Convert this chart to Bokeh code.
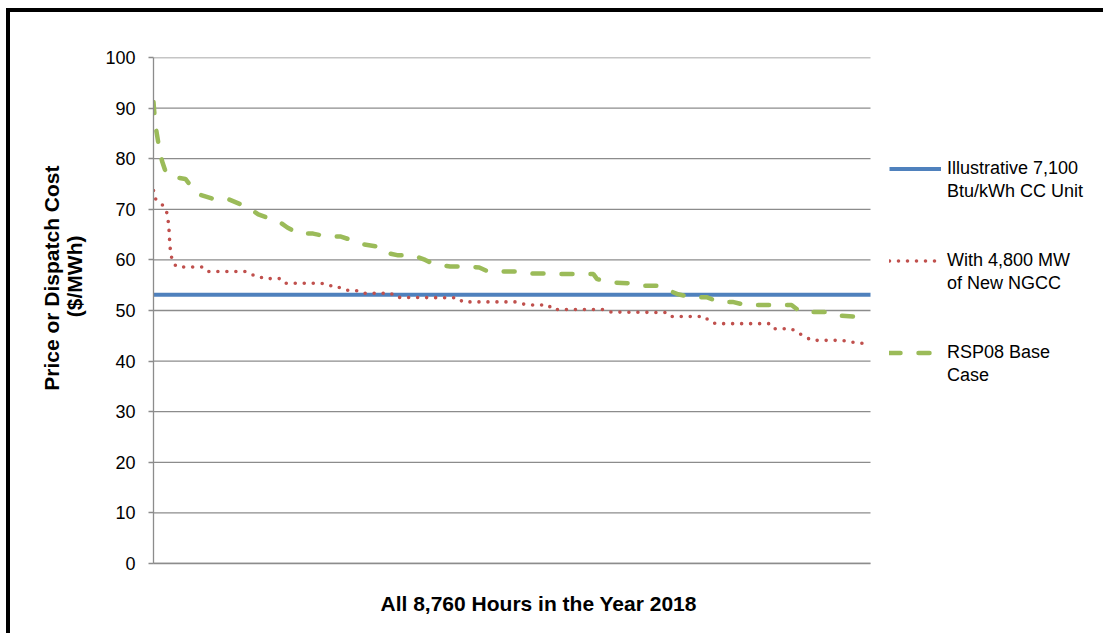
from bokeh.plotting import figure
from bokeh.models import FixedTicker, Legend, LegendItem, Title, Range1d
from bokeh.embed import file_html
from bokeh.resources import INLINE

# Hourly price-duration curves, hours sorted from highest to lowest price
HOURS = 8760

hours_cc = [0, 8760]
price_cc = [53.1, 53.1]

hours_ngcc = [0, 15, 70, 140, 165, 180, 188, 195, 200, 210, 225, 250, 290, 610, 670,
              1120, 1182, 1276, 1345, 1565, 1618, 2050, 2132, 2233, 2303, 2396, 2506,
              2579, 2902, 2958, 3725, 3775, 4420, 4505, 4605, 4825, 4870, 5520, 5590,
              6250, 6300, 6740, 6785, 6870, 7520, 7570, 7790, 7860, 7935, 8045, 8410,
              8495, 8580, 8700]
price_ngcc = [73.7, 72.2, 71.4, 70.4, 69.2, 67.6, 66.4, 64.4, 62.9, 61.4, 60.2, 59.2, 58.6,
              58.6, 57.7, 57.7, 57.1, 56.9, 56.3, 56.3, 55.4, 55.4, 54.9, 54.9, 54.2, 53.95,
              53.9, 53.4, 53.4, 52.6, 52.5, 51.7, 51.7, 51.3, 51.1, 51.1, 50.2, 50.2, 49.7,
              49.6, 48.8, 48.8, 47.9, 47.4, 47.4, 46.4, 46.4, 45.8, 45.0, 44.1, 44.1, 43.9,
              43.6, 43.5]

hours_base = [0, 8, 25, 45, 75, 105, 140, 190, 270, 390, 485, 545, 720, 900, 1060, 1155,
              1280, 1380, 1550, 1635, 1770, 1950, 2120, 2290, 2440, 2550, 2755, 2820,
              2990, 3175, 3320, 3420, 3625, 3785, 3980, 4090, 4455, 4640, 4810, 4980,
              5375, 5420, 5640, 5800, 5970, 6155, 6290, 6410, 6585, 6765, 6900, 7075,
              7230, 7795, 7905, 8260, 8370, 8560, 8680]
price_base = [91.2, 89.5, 86.5, 84.5, 81.5, 79.5, 77.8, 76.6, 76.3, 76.0, 74.0, 73.0, 72.1,
              72.1, 71.0, 70.4, 69.0, 68.4, 67.4, 66.4, 65.2, 65.2, 64.6, 64.6, 63.8, 63.1,
              62.6, 61.5, 60.9, 60.9, 60.0, 59.2, 58.7, 58.7, 58.5, 57.7, 57.7, 57.3, 57.3,
              57.2, 57.2, 56.2, 55.5, 55.4, 54.9, 54.9, 54.0, 53.2, 52.6, 52.6, 51.7, 51.7,
              51.1, 51.1, 49.7, 49.7, 49.0, 48.8, 47.4]

y_ticks = list(range(0, 101, 10))

label_cc = ["Illustrative 7,100", "Btu/kWh CC Unit"]
label_ngcc = ["With 4,800 MW", "of New NGCC"]
label_base = ["RSP08 Base", "Case"]

y_title = ["Price or Dispatch Cost", "($/MWh)"]
x_title = "All 8,760 Hours in the Year 2018"

FONT = "Liberation Sans"
GRID = "#8C8C8C"

# the plotting frame also holds the legend column on its right; the chart itself
# occupies the first 717 px (0..8760 h) of the 954 px wide frame
W, H = 1097, 625
LEFT = 143
CHART_W = 717
x_end = HOURS * (W - LEFT) / CHART_W

p = figure(width=W, height=H, output_backend="svg", toolbar_location=None,
           x_range=Range1d(0, x_end), y_range=Range1d(0, 100),
           min_border_left=LEFT, min_border_right=0, min_border_top=45,
           min_border_bottom=74)
p.styles = {"margin-left": "6px", "margin-top": "8px",
            "border-left": "4px solid #000000", "border-top": "4px solid #000000"}
p.outline_line_color = None
p.background_fill_color = "white"
p.border_fill_color = "white"

# axes
p.yaxis.ticker = FixedTicker(ticks=y_ticks)
p.yaxis.axis_line_color = GRID
p.yaxis.axis_line_width = 1.3
p.yaxis.major_tick_line_color = GRID
p.yaxis.major_tick_line_width = 1.3
p.yaxis.major_tick_out = 5
p.yaxis.major_tick_in = 0
p.yaxis.minor_tick_line_color = None
p.yaxis.major_label_standoff = 13
p.yaxis.major_label_text_font = FONT
p.yaxis.major_label_text_font_size = "18px"
p.yaxis.major_label_text_color = "#000000"

p.xaxis.ticker = FixedTicker(ticks=[])
p.xaxis.bounds = (0, HOURS)
p.xaxis.axis_line_color = GRID
p.xaxis.axis_line_width = 1.3
p.xaxis.major_tick_line_color = None
p.xaxis.minor_tick_line_color = None
p.xaxis.major_label_text_font_size = "0px"
# blank axis label keeps some room between the axis and the title below it
p.xaxis.axis_label = " "
p.xaxis.axis_label_text_font_size = "1px"
p.xaxis.axis_label_standoff = 14

# horizontal gridlines across the 8,760 hours only
p.xgrid.grid_line_color = None
p.ygrid.grid_line_color = None
p.segment(x0=[0] * len(y_ticks), y0=y_ticks, x1=[HOURS] * len(y_ticks), y1=y_ticks,
          line_color=GRID, line_width=1.3)

# series
r_cc = p.line(hours_cc, price_cc, line_color="#4F81BD", line_width=4)
r_ngcc = p.line(hours_ngcc, price_ngcc, line_color="#C0504D", line_width=3.6,
                line_dash="0 9", line_cap="round")
r_base = p.line(hours_base, price_base, line_color="#9BBB59", line_width=4.5,
                line_dash="11 18", line_cap="round")

# invisible glyph for second lines of the legend labels
r_blank = p.line(x=[], y=[], line_alpha=0)

items = [
    LegendItem(label=label_cc[0], renderers=[r_cc]),
    LegendItem(label=label_cc[1], renderers=[r_blank]),
    LegendItem(label=" ", renderers=[r_blank]),
    LegendItem(label=" ", renderers=[r_blank]),
    LegendItem(label=label_ngcc[0], renderers=[r_ngcc]),
    LegendItem(label=label_ngcc[1], renderers=[r_blank]),
    LegendItem(label=" ", renderers=[r_blank]),
    LegendItem(label=" ", renderers=[r_blank]),
    LegendItem(label=label_base[0], renderers=[r_base]),
    LegendItem(label=label_base[1], renderers=[r_blank]),
]
legend = Legend(items=items, location=(CHART_W + 19, 176), margin=0, padding=0,
                spacing=0, label_height=23, glyph_height=23, glyph_width=52,
                label_standoff=6, border_line_color=None, background_fill_alpha=0,
                label_text_font=FONT, label_text_font_size="18px",
                label_text_color="#000000")
p.add_layout(legend, "center")

# axis titles
title_font = dict(text_font=FONT, text_font_size="21px", text_font_style="bold",
                  text_color="#000000")
p.add_layout(Title(text=y_title[1], align="right", offset=178, standoff=34,
                   **title_font), "left")
p.add_layout(Title(text=y_title[0], align="right", offset=108, standoff=-38,
                   **title_font), "left")
p.add_layout(Title(text=x_title, align="left", offset=227, standoff=20,
                   vertical_align="top", **title_font), "below")

open("out.html", "w").write(file_html(p, INLINE))
